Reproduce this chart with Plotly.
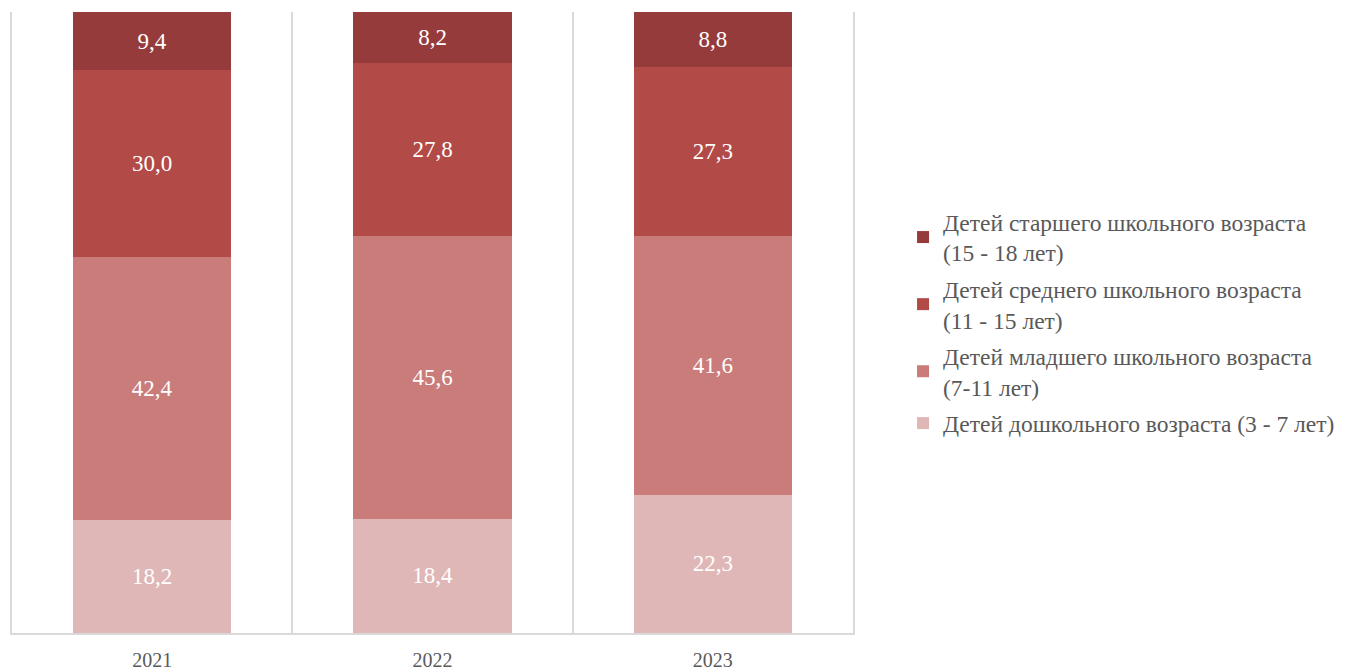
import plotly.graph_objects as go

years = ["2021", "2022", "2023"]
preschool = [18.2, 18.4, 22.3]
junior = [42.4, 45.6, 41.6]
middle = [30.0, 27.8, 27.3]
senior = [9.4, 8.2, 8.8]

names = [
    "Детей дошкольного возраста (3 - 7 лет)",
    "Детей младшего школьного возраста<br>(7-11 лет)",
    "Детей среднего школьного возраста<br>(11 - 15 лет)",
    "Детей старшего школьного возраста<br>(15 - 18 лет)",
]
colors = ["#DFB7B7", "#C97C7A", "#B24A47", "#963B3B"]
series = [preschool, junior, middle, senior]

FONT = "Liberation Serif, Times New Roman, serif"

fig = go.Figure()
for i, (name, vals, col) in enumerate(zip(names, series, colors)):
    fig.add_trace(go.Bar(
        x=years, y=vals, name=name, legendgroup=f"g{i}",
        legendrank=10 - i,
        marker=dict(color=col, line=dict(width=0)),
        texttemplate="%{y:.1f}", textposition="inside",
        insidetextanchor="middle",
        textfont=dict(color="white", size=23, family=FONT),
        hoverinfo="skip",
    ))

fig.update_layout(
    width=1339, height=662,
    barmode="stack", bargap=0.435,
    separators=", ",
    plot_bgcolor="white", paper_bgcolor="white",
    margin=dict(l=4, r=494, t=4, b=37, autoexpand=False),
    font=dict(family=FONT, color="#595959", size=20),
    legend=dict(
        traceorder="grouped", x=1.0595, y=0.5, xanchor="left", yanchor="middle",
        font=dict(size=23.5, color="#595959", family=FONT),
        tracegroupgap=3,
    ),
    showlegend=True,
)
fig.update_xaxes(
    type="category", tickson="boundaries", showgrid=True, gridcolor="#D9D9D9",
    gridwidth=1.5, showline=True, linecolor="#D9D9D9", linewidth=1.5,
    ticks="", tickfont=dict(size=20, color="#595959", family=FONT),
    ticklabelstandoff=8, automargin=False,
)
fig.update_yaxes(
    range=[0, 100], showticklabels=False, showgrid=False, zeroline=False,
    showline=True, mirror=True, linecolor="#D9D9D9", linewidth=1.5, ticks="",
    automargin=False,
)

fig.write_html("out.html")
